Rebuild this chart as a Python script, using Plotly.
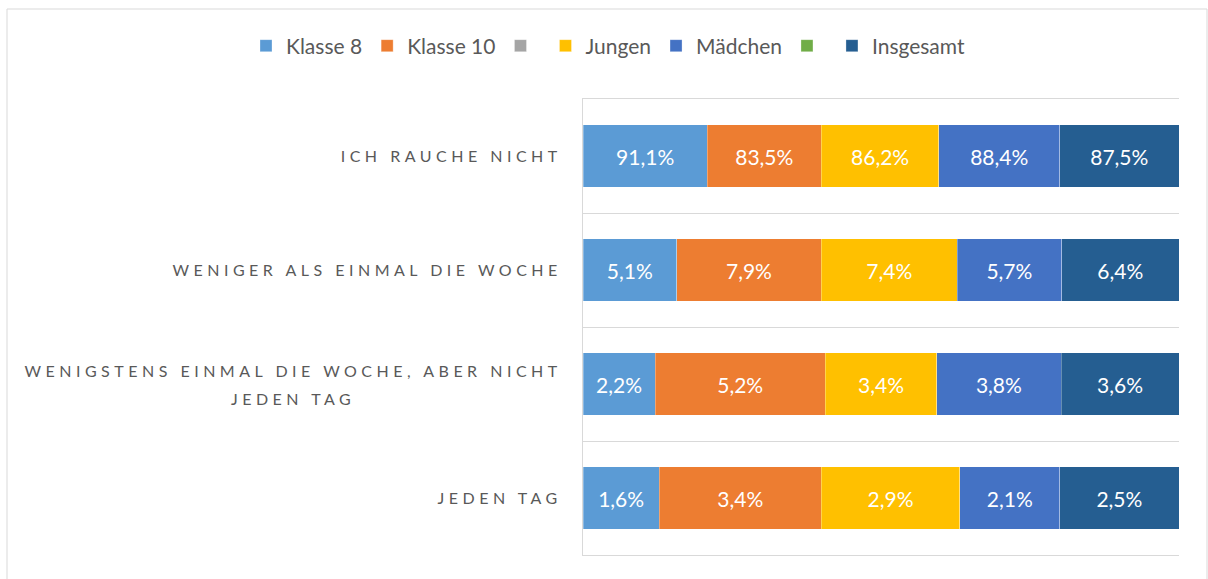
import plotly.graph_objects as go

categories = [
    "ICH RAUCHE NICHT",
    "WENIGER ALS EINMAL DIE WOCHE",
    "WENIGSTENS EINMAL DIE WOCHE, ABER NICHT<br>JEDEN TAG",
    "JEDEN TAG",
]
series_names = ["Klasse 8", "Klasse 10", "", "Jungen", "Mädchen", "", "Insgesamt"]
klasse8 = [91.1, 5.1, 2.2, 1.6]
klasse10 = [83.5, 7.9, 5.2, 3.4]
leer1 = [None, None, None, None]
jungen = [86.2, 7.4, 3.4, 2.9]
maedchen = [88.4, 5.7, 3.8, 2.1]
leer2 = [None, None, None, None]
insgesamt = [87.5, 6.4, 3.6, 2.5]
series_values = [klasse8, klasse10, leer1, jungen, maedchen, leer2, insgesamt]
colors = ["#5B9BD5", "#ED7D31", "#A5A5A5", "#FFC000", "#4472C4", "#70AD47", "#255E91"]

W, H = 1208, 579
ML, MR, MT, MB = 583, 29, 99, 24

fig = go.Figure()
for name, vals, col in zip(series_names, series_values, colors):
    txt = ["" if v is None else f"{v:.1f}".replace(".", ",") + "%" for v in vals]
    fig.add_trace(go.Bar(
        y=categories, x=vals, name=name, orientation="h",
        marker=dict(color=col, line=dict(color="rgba(255,255,255,0.6)", width=0.5)),
        text=txt, textposition="inside", insidetextanchor="middle",
        textfont=dict(family="Lato", size=21, color="white"),
        constraintext="none", hoverinfo="skip", showlegend=True,
    ))

pw = W - ML - MR
ph = H - MT - MB
fig.add_shape(type="rect", xref="paper", yref="paper",
              x0=(7 - ML) / pw, x1=(1207 - ML) / pw,
              y0=(H - MB - 590) / ph, y1=(H - MB - 9) / ph,
              line=dict(color="#D9D9D9", width=1), fillcolor="rgba(0,0,0,0)", layer="below")

fig.update_layout(
    width=W, height=H,
    margin=dict(l=ML, r=MR, t=MT, b=MB, autoexpand=False),
    paper_bgcolor="white", plot_bgcolor="white",
    barmode="stack", barnorm="percent", bargap=0.45,
    font=dict(family="Lato", color="#595959"),
    legend=dict(orientation="h", xref="paper", yref="paper",
                x=(246 - ML) / pw, xanchor="left",
                y=(H - MB - 46) / ph, yanchor="middle",
                font=dict(family="Lato", size=21, color="#595959"),
                traceorder="normal", itemclick=False, itemdoubleclick=False),
    xaxis=dict(range=[0, 100], showticklabels=False, showgrid=False, zeroline=False,
               showline=True, mirror=True, linecolor="#D9D9D9", linewidth=1,
               fixedrange=True),
    yaxis=dict(type="category", categoryorder="array", categoryarray=categories,
               autorange="reversed", tickson="boundaries", showgrid=True,
               gridcolor="#D9D9D9", gridwidth=1, showline=True, linecolor="#D9D9D9",
               linewidth=1, ticks="", ticklabelstandoff=17,
               tickfont=dict(family="Lato", size=16, color="#595959"), fixedrange=True),
)

post = """
document.body.style.margin = '0';
var gd = document.getElementById('{plot_id}');
function fixLabels(){
  gd.querySelectorAll('.ytick text').forEach(function(t){
    t.style.letterSpacing = '4.5px';
    var tsp = t.querySelectorAll('tspan.line');
    var n = tsp.length;
    if (n > 1) {
      var d0 = tsp[0].getAttribute('dy') || '0em';
      var v0 = parseFloat(d0) || 0;
      if (!t.dataset.fixed) {
        tsp[0].setAttribute('dy', (v0 - 0.15*(n-1)) + 'em');
        for (var i=1;i<n;i++){ tsp[i].setAttribute('dy', '1.6em'); }
        t.dataset.fixed = '1';
      }
      var w0 = tsp[0].getComputedTextLength();
      var x = parseFloat(tsp[0].getAttribute('x'));
      for (var j=1;j<n;j++){
        var w = tsp[j].getComputedTextLength();
        tsp[j].setAttribute('x', x - (w0 - w)/2);
      }
    }
  });
}
fixLabels();
gd.on('plotly_afterplot', fixLabels);
"""

fig.write_html("out.html", post_script=post, config={"displayModeBar": False})
